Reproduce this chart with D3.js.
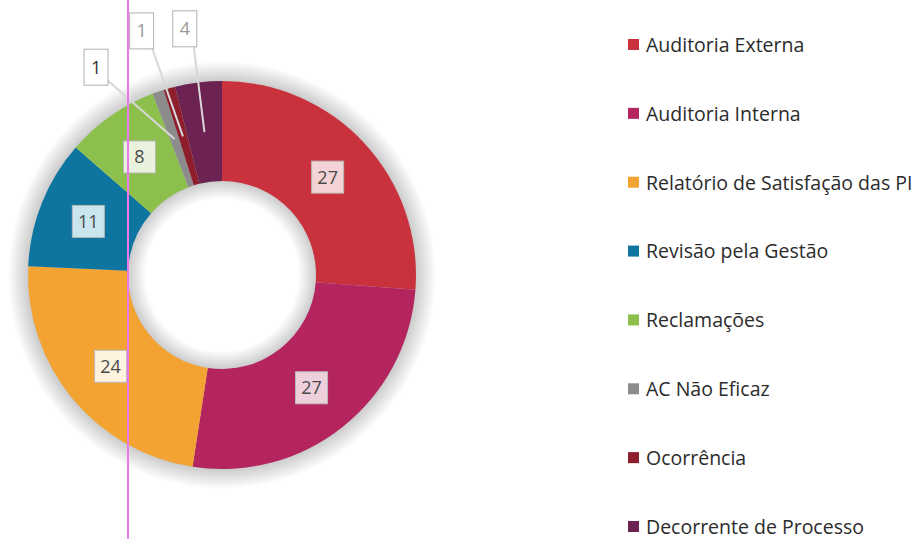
<!DOCTYPE html>
<html>
<head>
<meta charset="utf-8">
<script src="https://cdn.jsdelivr.net/npm/d3@7"></script>
<style>
    body { margin: 0; background: #fff; }
    svg { display: block; font-family: "Open Sans", "Noto Sans", sans-serif; }
</style>
</head>
<body>
<div id="chart"></div>
<script>
const categories = ["Auditoria Externa", "Auditoria Interna", "Relatório de Satisfação das PI",
                    "Revisão pela Gestão", "Reclamações", "AC Não Eficaz", "Ocorrência",
                    "Decorrente de Processo"];
const values = [27, 27, 24, 11, 8, 1, 1, 4];
const colors = ["#c9323d", "#b4255f", "#f2a332", "#0d75a0", "#8cbf4b", "#8c8c8c", "#8e1e2b", "#6c2352"];
const labelFills = ["#f3d3d5", "#edd0dc", "#fdf3de", "#c9e6ef", "#e9f2dc", "#ffffff", "#ffffff", "#ffffff"];

const width = 920;
const height = 539;
const cx = 222, cy = 275;
const outerR = 194, innerR = 94;
const haloW = 20;

// outside callouts for the thin slices: angle shift (deg) and radius
const callouts = {
    "AC Não Eficaz": {shift: -12, r: 243, color: "#333"},
    "Ocorrência": {shift: -2.5, r: 257, color: "#999"},
    "Decorrente de Processo": {shift: -1.6, r: 249, color: "#999"}
};

const data = categories.map((c, i) => ({key: c, value: values[i], color: colors[i], fill: labelFills[i]}));

const svg = d3.select("#chart").append("svg")
              .attr("width", width)
              .attr("height", height);

// soft grey halo round the ring, outside and in the hole
const haloR = outerR + haloW;
const grad = svg.append("defs").append("radialGradient")
                .attr("id", "halo")
                .attr("gradientUnits", "userSpaceOnUse")
                .attr("cx", 0).attr("cy", 0).attr("r", haloR);
[[(innerR - 18) / haloR, 0], [innerR / haloR, 0.9], [outerR / haloR, 0.9], [1, 0]].forEach(s => {
    grad.append("stop")
        .attr("offset", s[0])
        .attr("stop-color", "#c6c6c6")
        .attr("stop-opacity", s[1]);
});

const g = svg.append("g").attr("transform", "translate(" + cx + "," + cy + ")");

g.append("circle")
 .attr("r", haloR)
 .attr("fill", "url(#halo)");

const pie = d3.pie().value(d => d.value).sort(null);
const arc = d3.arc().innerRadius(innerR).outerRadius(outerR);
const data_ready = pie(data);

g.append("g")
 .selectAll("path")
 .data(data_ready)
 .enter()
 .append("path")
 .attr("d", arc)
 .attr("fill", d => d.data.color);

// inside labels
const inside = data_ready.filter(d => !callouts[d.data.key]);
const insideG = g.append("g").selectAll("g")
                 .data(inside)
                 .enter()
                 .append("g")
                 .attr("transform", d => "translate(" + arc.centroid(d) + ")");
insideG.append("rect")
       .attr("x", -16).attr("y", -16)
       .attr("width", 32).attr("height", 32)
       .attr("fill", d => d.data.fill)
       .attr("stroke", "#b9b9b9")
       .attr("stroke-width", 1);
insideG.append("text")
       .attr("text-anchor", "middle")
       .attr("dy", "0.36em")
       .style("font-size", "18px")
       .style("fill", "#4a4a4a")
       .text(d => d.data.value);

// outside callouts
const outside = data_ready.filter(d => callouts[d.data.key]);
function calloutPos(d) {
    const c = callouts[d.data.key];
    const a = (d.startAngle + d.endAngle) / 2 + c.shift * Math.PI / 180;
    return [c.r * Math.sin(a), -c.r * Math.cos(a)];
}
g.append("g").selectAll("line")
 .data(outside)
 .enter()
 .append("line")
 .attr("x1", d => arc.centroid(d)[0])
 .attr("y1", d => arc.centroid(d)[1])
 .attr("x2", d => calloutPos(d)[0] + 8)
 .attr("y2", d => calloutPos(d)[1] + 10)
 .attr("stroke", "#d8d8d8")
 .attr("stroke-width", 2);

const outG = g.append("g").selectAll("g")
              .data(outside)
              .enter()
              .append("g")
              .attr("transform", d => "translate(" + calloutPos(d) + ")");
outG.append("rect")
    .attr("x", -12).attr("y", -18)
    .attr("width", 24).attr("height", 36)
    .attr("fill", "#fff")
    .attr("stroke", "#b0b0b0")
    .attr("stroke-width", 1);
outG.append("text")
    .attr("text-anchor", "middle")
    .attr("dy", "0.36em")
    .style("font-size", "18px")
    .style("fill", d => callouts[d.data.key].color)
    .text(d => d.data.value);

// legend
const ly = d3.scalePoint().domain(categories).range([45, 527]);
const legend = svg.append("g").selectAll("g")
                  .data(data)
                  .enter()
                  .append("g")
                  .attr("transform", d => "translate(628," + ly(d.key) + ")");
legend.append("rect")
      .attr("x", 0).attr("y", -6)
      .attr("width", 11).attr("height", 11)
      .attr("fill", d => d.color);
legend.append("text")
      .attr("x", 18)
      .attr("dy", "0.35em")
      .style("font-size", "19.5px")
      .style("fill", "#2b2b2b")
      .text(d => d.key);

// vertical marker line over the chart
svg.append("line")
   .attr("x1", 128).attr("x2", 128)
   .attr("y1", 0).attr("y2", height)
   .attr("stroke", "#e77ae8")
   .attr("stroke-width", 2);
</script>
</body>
</html>
